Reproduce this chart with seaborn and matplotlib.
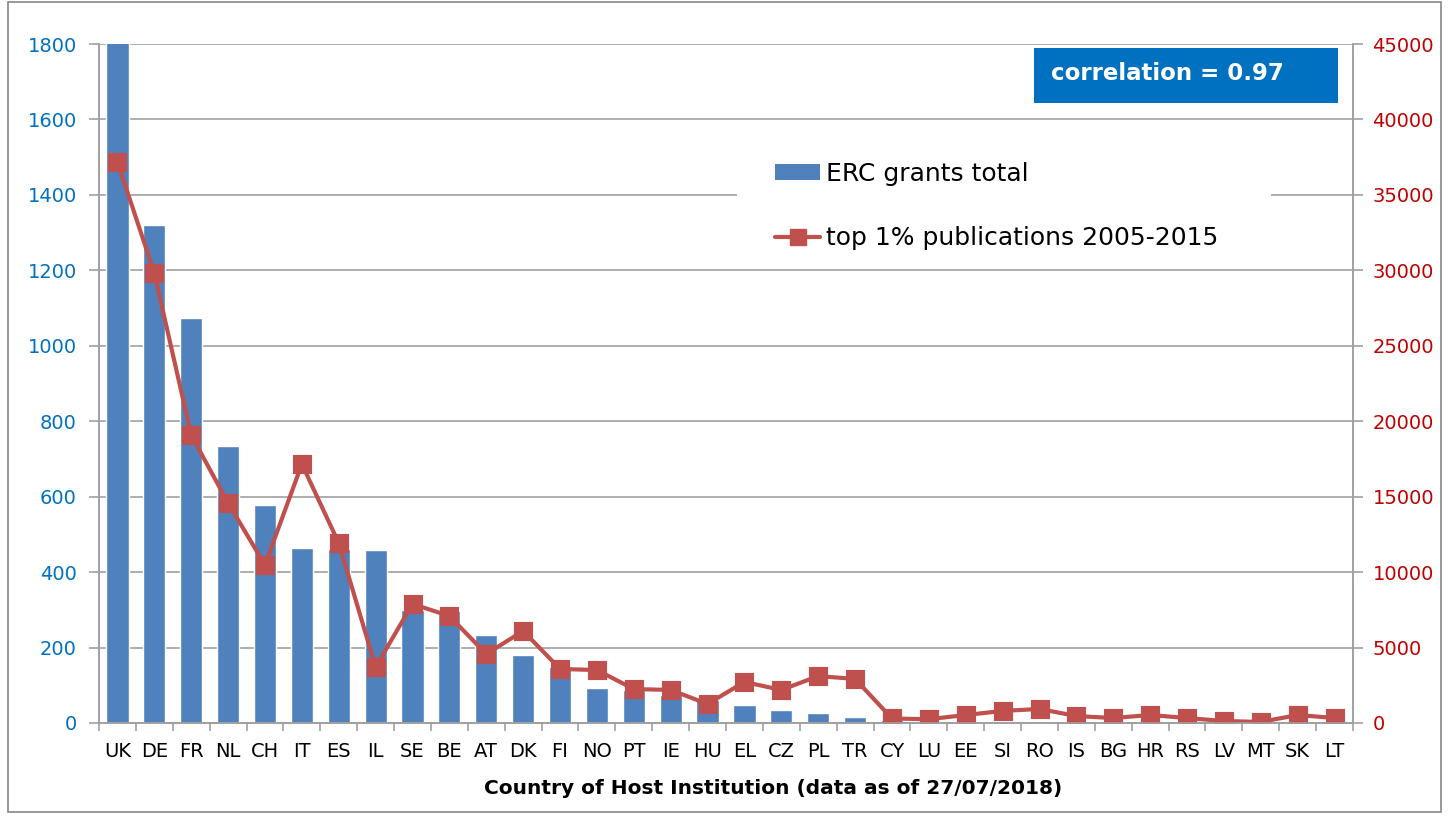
import numpy as np
import pandas as pd
import matplotlib
matplotlib.use("Agg")
import matplotlib.pyplot as plt
from matplotlib.patches import Patch, Rectangle
from matplotlib.lines import Line2D
from matplotlib.ticker import MultipleLocator
import seaborn as sns

# --- Data ---
countries = ["UK", "DE", "FR", "NL", "CH", "IT", "ES", "IL", "SE", "BE", "AT", "DK",
             "FI", "NO", "PT", "IE", "HU", "EL", "CZ", "PL", "TR", "CY", "LU", "EE",
             "SI", "RO", "IS", "BG", "HR", "RS", "LV", "MT", "SK", "LT"]
erc_grants = [1850, 1320, 1074, 735, 578, 464, 462, 459, 300, 298, 233, 180,
              149, 93, 88, 75, 60, 48, 34, 27, 16, 8, 5, 5,
              6, 6, 3, 2, 3, 1, 1, 0, 1, 1]
top1_pubs = [37180, 29820, 19080, 14580, 10470, 17160, 11930, 3710, 7890, 7090, 4570, 6100,
             3580, 3510, 2250, 2190, 1260, 2720, 2190, 3110, 2920, 300, 250, 530,
             800, 930, 460, 330, 530, 330, 130, 70, 530, 330]
left_ticks = [0, 200, 400, 600, 800, 1000, 1200, 1400, 1600, 1800]
right_ticks = [0, 5000, 10000, 15000, 20000, 25000, 30000, 35000, 40000, 45000]
correlation_text = "correlation = 0.97"
bar_label = "ERC grants total"
line_label = "top 1% publications 2005-2015"
x_title = "Country of Host Institution (data as of 27/07/2018)"

df = pd.DataFrame({"country": countries, "erc": erc_grants, "pubs": top1_pubs})

# --- Styling ---
sns.set_style("white")
plt.rcParams["font.family"] = ["DejaVu Sans"]
plt.rcParams["text.color"] = "black"
plt.rcParams["axes.labelcolor"] = "black"
bar_color = "#4F81BD"
line_color = "#C0504D"
grid_color = "#A0A0A0"
blue_text = "#0070C0"
red_text = "#C00000"

W, H = 1449, 817
fig = plt.figure(figsize=(W / 100, H / 100), dpi=100)
ax = fig.add_axes([99 / W, 1 - 723 / H, (1353 - 99) / W, (723 - 44) / H])

sns.barplot(data=df, x="country", y="erc", color=bar_color, width=0.6,
            saturation=1, ax=ax, zorder=2)
ax.set_ylim(0, 1800)
ax.set_xlim(-0.5, len(countries) - 0.5)
ax.set_yticks(left_ticks)
ax.yaxis.grid(True, color=grid_color, linewidth=1.2, zorder=0)
ax.set_axisbelow(True)
ax.set_ylabel("")
ax.set_xlabel(x_title, fontsize=14.5, fontweight="bold", color="black")
ax.xaxis.set_label_coords((773 - 99) / 1254, -(789 - 723) / 679)
ax.xaxis.label.set_va("center")

# white block behind the legend, hiding the gridline like the original
ax.add_patch(Rectangle(((737 - 99) / 1254, (723 - 262) / 679), (1271 - 737) / 1254, 110 / 679,
                       transform=ax.transAxes, facecolor="white", edgecolor="none", zorder=1))

ax2 = ax.twinx()
sns.pointplot(data=df, x="country", y="pubs", color=line_color, markers="s",
              markersize=11, linewidth=3, ax=ax2)
ax2.set_ylim(0, 45000)
ax2.set_yticks(right_ticks)
ax2.set_ylabel("")
ax2.set_xlim(-0.5, len(countries) - 0.5)

for a in (ax, ax2):
    a.spines["top"].set_visible(False)
    for side in ("left", "right", "bottom"):
        a.spines[side].set_color(grid_color)
        a.spines[side].set_linewidth(1.2)

ax.tick_params(axis="y", colors=grid_color, labelcolor=blue_text, labelsize=14,
               length=7, width=1.2, pad=9, left=True)
ax2.tick_params(axis="y", colors=grid_color, labelcolor=red_text, labelsize=14,
                length=7, width=1.2, pad=7, right=True)
ax.tick_params(axis="x", which="major", length=0, labelsize=14, pad=14, labelcolor="black")
ax.xaxis.set_minor_locator(MultipleLocator(1, offset=0.5))
ax.tick_params(axis="x", which="minor", bottom=True, length=6, width=1.2, color=grid_color)
ax2.tick_params(axis="x", which="both", bottom=False, labelbottom=False)

# legend
handles = [Patch(facecolor=bar_color, edgecolor="none"),
           Line2D([0], [0], color=line_color, linewidth=3, marker="s", markersize=11)]
ax2.legend(handles, [bar_label, line_label], loc="upper left",
           bbox_to_anchor=((775 - 99) / 1254, (723 - 162) / 679),
           frameon=False, fontsize=18, handlelength=1.8, handleheight=0.6,
           labelspacing=1.6, handletextpad=0.22, borderpad=0, borderaxespad=0,
           labelcolor="black")

# correlation box
fig.patches.append(Rectangle((1034 / W, 1 - 103 / H), (1338 - 1034) / W, 55 / H,
                             transform=fig.transFigure, facecolor=blue_text,
                             edgecolor="none", zorder=5))
fig.text(1051 / W, 1 - 74 / H, correlation_text, color="white", fontsize=16.5,
         fontweight="bold", va="center", ha="left", zorder=6)

# outer chart frame
fig.patches.append(Rectangle((8 / W, 5 / H), 1433 / W, 810 / H,
                             transform=fig.transFigure, facecolor="none",
                             edgecolor="#868686", linewidth=1.2, zorder=0))

fig.savefig("out.png", dpi=100)
